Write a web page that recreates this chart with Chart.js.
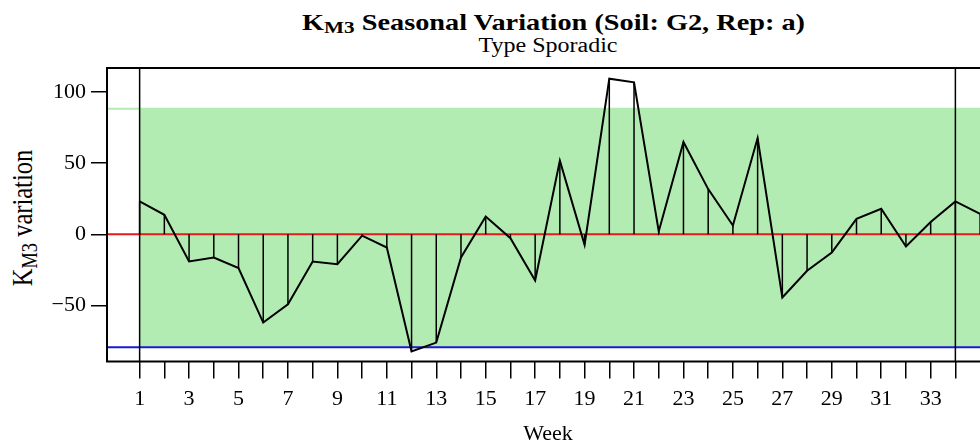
<!DOCTYPE html>
<html lang="en">
	<head>
		<meta charset="UTF-8" />
		<title>KM3 Seasonal Variation</title>
		<script src="https://cdn.jsdelivr.net/npm/chart.js"></script>
		<style>
			body {
				margin: 0;
				width: 980px;
				height: 444px;
				overflow: hidden;
				background: #fff;
				position: relative;
				font-family: 'Liberation Serif', 'Times New Roman', serif;
				color: #000;
			}
			.chart_container {
				position: absolute;
				left: 0;
				top: 0;
				width: 1000px;
				height: 447px;
			}
			.title {
				position: absolute;
				left: 348px;
				width: 400px;
				text-align: center;
				white-space: nowrap;
				line-height: 1;
			}
			.main {
				top: 11px;
				font-size: 23px;
				font-weight: bold;
				transform: scaleX(1.23);
			}
			.sub {
				top: 35px;
				font-size: 20px;
				transform: scaleX(1.2);
			}
			.ylabel {
				position: absolute;
				left: 23px;
				top: 218px;
				font-size: 24.5px;
				line-height: 1;
				white-space: nowrap;
				transform: translate(-50%, -50%) rotate(-90deg) scaleY(1.2);
			}
			sub {
				font-size: 0.75em;
				vertical-align: -0.2em;
				line-height: 0;
			}
		</style>
	</head>
	<body>
		<div class="title main">K<sub>M3</sub> Seasonal Variation (Soil: G2, Rep: a)</div>
		<div class="title sub">Type Sporadic</div>
		<div class="ylabel">K<sub>M3</sub> variation</div>
		<div class="chart_container">
			<canvas id="myChart"></canvas>
		</div>

		<script>
			// weekly KM3 variation (weeks 34-35 start the next cycle)
			const weeks = [1, 2, 3, 4, 5, 6, 7, 8, 9, 10, 11, 12, 13, 14, 15, 16, 17, 18,
				19, 20, 21, 22, 23, 24, 25, 26, 27, 28, 29, 30, 31, 32, 33, 34, 35];
			const kValues = [23.1, 13.7, -19.1, -16.3, -23.8, -62.1, -49.2, -19.1, -21.0,
				-1.0, -9.3, -82.5, -76.2, -16.3, 12.5, -2.7, -32.5, 51.8, -7.4, 109.5,
				106.9, 2.0, 64.9, 31.8, 6.2, 67.7, -44.5, -25.7, -12.8, 10.9, 18.0, -8.6,
				8.6, 23.1, 14.4];

			const upperLimit = 88.4;
			const centreLine = 0;
			const lowerLimit = -79.4;
			const cycleStarts = [1, 34];

			const xTickWeeks = [1, 2, 3, 4, 5, 6, 7, 8, 9, 10, 11, 12, 13, 14, 15, 16, 17,
				18, 19, 20, 21, 22, 23, 24, 25, 26, 27, 28, 29, 30, 31, 32, 33, 34];
			const xLabelWeeks = [1, 3, 5, 7, 9, 11, 13, 15, 17, 19, 21, 23, 25, 27, 29, 31, 33];
			const yTicks = [-50, 0, 50, 100];

			const font = { family: "'Liberation Serif', 'Times New Roman', serif", size: 22 };

			const hLine = (v, color, order) => ({
				type: 'line',
				data: [{ x: -5, y: v }, { x: 40, y: v }],
				borderColor: color,
				borderWidth: 2,
				pointRadius: 0,
				order: order,
			});

			const datasets = [
				{
					// band between control limits, from the first cycle on
					type: 'line',
					data: [{ x: cycleStarts[0], y: upperLimit }, { x: 40, y: upperLimit }],
					borderWidth: 0,
					pointRadius: 0,
					backgroundColor: '#b3ecb3',
					fill: { value: lowerLimit },
					order: 10,
				},
				hLine(upperLimit, '#b3ecb3', 6),
				hLine(centreLine, '#e41a1c', 5),
				hLine(lowerLimit, '#1a1ad0', 5),
				{
					// drops from the centre line to each value
					type: 'line',
					data: weeks.flatMap((w, i) => [
						{ x: w, y: centreLine },
						{ x: w, y: kValues[i] },
						{ x: w, y: null },
					]),
					borderColor: '#000',
					borderWidth: 1.5,
					pointRadius: 0,
					spanGaps: false,
					order: 3,
				},
			];

			cycleStarts.forEach((w) => {
				datasets.push({
					type: 'line',
					data: [{ x: w, y: -1000 }, { x: w, y: 1000 }],
					borderColor: '#000',
					borderWidth: 1.5,
					pointRadius: 0,
					order: 2,
				});
			});

			datasets.push({
				type: 'line',
				data: weeks.map((w, i) => ({ x: w, y: kValues[i] })),
				borderColor: '#000',
				borderWidth: 2,
				pointRadius: 0,
				tension: 0,
				order: 1,
			});

			const boxPlugin = {
				id: 'box',
				afterDraw(chart) {
					const { ctx, chartArea } = chart;
					ctx.save();
					ctx.strokeStyle = '#000';
					ctx.lineWidth = 2;
					ctx.strokeRect(chartArea.left, chartArea.top,
						chartArea.right - chartArea.left, chartArea.bottom - chartArea.top);
					ctx.restore();
				},
			};

			new Chart(document.getElementById('myChart'), {
				type: 'line',
				data: { datasets: datasets },
				plugins: [boxPlugin],
				options: {
					responsive: true,
					maintainAspectRatio: false,
					animation: false,
					events: [],
					layout: { padding: { top: 68, right: 11, left: 0, bottom: 0 } },
					plugins: {
						legend: { display: false },
						tooltip: { enabled: false },
					},
					scales: {
						x: {
							type: 'linear',
							min: -0.32,
							max: 35.36,
							offset: false,
							afterBuildTicks: (scale) => {
								scale.ticks = xTickWeeks.map((v) => ({ value: v }));
							},
							afterFit: (scale) => {
								scale.height = 85.5;
							},
							ticks: {
								autoSkip: false,
								maxRotation: 0,
								padding: 8,
								color: '#000',
								font: font,
								callback: (v) => (xLabelWeeks.includes(v) ? String(v) : ''),
							},
							grid: {
								drawOnChartArea: false,
								drawTicks: true,
								tickLength: 17,
								color: '#000',
								lineWidth: 1.5,
							},
							border: { display: false },
							title: {
								display: true,
								text: 'Week',
								color: '#000',
								font: font,
								padding: { top: 0, bottom: 0 },
							},
						},
						y: {
							min: -89.5,
							max: 117,
							afterBuildTicks: (scale) => {
								scale.ticks = yTicks.map((v) => ({ value: v }));
							},
							afterFit: (scale) => {
								scale.width = 107;
							},
							ticks: {
								padding: 5,
								color: '#000',
								font: font,
								callback: (v) => (v < 0 ? '\u2212' + Math.abs(v) : String(v)),
							},
							grid: {
								drawOnChartArea: false,
								drawTicks: true,
								tickLength: 16,
								color: '#000',
								lineWidth: 1.5,
							},
							border: { display: false },
						},
					},
				},
			});
		</script>
	</body>
</html>
